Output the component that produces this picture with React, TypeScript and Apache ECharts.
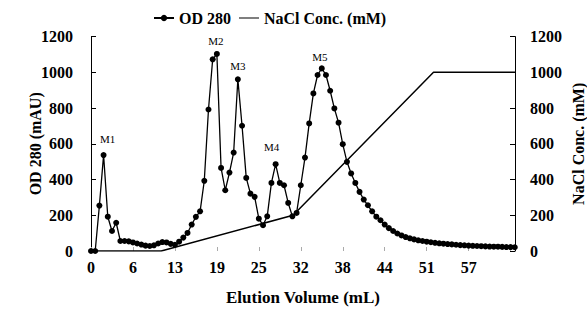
import React, { useEffect, useRef } from "react";
import * as echarts from "echarts";

const FRACTION_VOLUME = 19 / 30; // mL per fraction
const odValues = [
  0, 0, 254, 537, 192, 112, 158, 56, 56, 54,
  48, 42, 36, 30, 28, 32, 42, 50, 48, 40,
  35, 52, 75, 101, 148, 191, 222, 393, 792, 1073,
  1103, 465, 340, 439, 551, 961, 701, 409, 321, 303,
  181, 144, 194, 381, 486, 381, 368, 269, 194, 213,
  368, 523, 714, 882, 985, 1022, 985, 897, 798, 718,
  598, 499, 434, 381, 331, 288, 256, 222, 192, 172,
  148, 128, 112, 98, 87, 78, 71, 65, 60, 56,
  52, 49, 46, 43, 41, 39, 37, 35, 33, 32,
  30, 29, 28, 27, 26, 25, 24, 24, 23, 22,
  22, 21,
];
const peakLabels: { index: number; name: string; dx: number; dy: number }[] = [
  { index: 3, name: "M1", dx: 4, dy: -2 },
  { index: 30, name: "M2", dx: -1, dy: 2 },
  { index: 35, name: "M3", dx: 0, dy: 1 },
  { index: 44, name: "M4", dx: -4, dy: -3 },
  { index: 55, name: "M5", dx: -2, dy: 3 },
];
const naclVolumes = [0, 10.6, 30.5, 51.7, 64];
const naclConc = [0, 0, 200, 1000, 1000];
const yTicks = [0, 200, 400, 600, 800, 1000, 1200];

const FONT = "'Liberation Serif', 'Times New Roman', serif";
const LINE_ICON = "path://M0,0 L0,0.01 M0,3.4 L20,3.4 L20,4.6 L0,4.6 Z M20,7.99 L20,8";

export default function App() {
  const ref = useRef<HTMLDivElement>(null);
  useEffect(() => {
    if (!ref.current) return;
    const chart = echarts.init(ref.current, undefined, { renderer: "svg" });
    const odData = odValues.map((v, i) => {
      const pk = peakLabels.find((p) => p.index === i);
      const item: any = { value: [i * FRACTION_VOLUME, v] };
      if (pk) {
        item.label = {
          show: true,
          formatter: pk.name,
          position: "top",
          distance: 6,
          offset: [pk.dx, pk.dy],
          fontFamily: FONT,
          fontSize: 11,
          color: "#000",
        };
      }
      return item;
    });
    const naclData = naclVolumes.map((v, i) => [v, naclConc[i]]);
    const yAxisCommon = {
      type: "value",
      min: yTicks[0],
      max: yTicks[yTicks.length - 1],
      interval: 200,
      splitLine: { show: false },
      axisLine: { show: true, lineStyle: { color: "#000", width: 1 } },
      axisTick: { show: true, inside: true, length: 5, lineStyle: { color: "#000" } },
      nameLocation: "middle",
      nameRotate: 90,
      nameMoveOverlap: false,
      nameTextStyle: { fontFamily: FONT, fontWeight: "bold", fontSize: 16, color: "#000" },
    };
    const yLabel = (margin: number) => ({
      fontFamily: FONT,
      fontWeight: "bold",
      fontSize: 16,
      color: "#000",
      margin,
      formatter: (v: number) => String(v),
    });
    chart.setOption({
      animation: false,
      backgroundColor: "#fff",
      textStyle: { fontFamily: FONT },
      legend: {
        left: 148,
        top: 5,
        itemWidth: 20,
        itemHeight: 8,
        itemGap: 8,
        textStyle: { fontFamily: FONT, fontWeight: "bold", fontSize: 16, color: "#000" },
        data: [{ name: "OD 280" }, { name: "NaCl Conc. (mM)", icon: LINE_ICON }],
      },
      grid: {
        left: 91,
        right: 72,
        top: 36.6,
        bottom: 59,
        containLabel: false,
        outerBoundsMode: "none",
      },
      xAxis: {
        type: "value",
        min: 0,
        max: 64,
        interval: 19 / 3,
        name: "Elution Volume (mL)",
        nameLocation: "middle",
        nameGap: 38,
        nameMoveOverlap: false,
        nameTextStyle: { fontFamily: FONT, fontWeight: "bold", fontSize: 17, color: "#000" },
        splitLine: { show: false },
        axisLine: { show: false },
        axisTick: { show: true, inside: true, length: 4, lineStyle: { color: "#aaa" } },
        axisLabel: {
          fontFamily: FONT,
          fontWeight: "bold",
          fontSize: 16,
          color: "#000",
          margin: 8,
          showMaxLabel: false,
          formatter: (v: number) => (v > 60 ? "" : String(Math.round(v))),
        },
      },
      yAxis: [
        {
          ...yAxisCommon,
          position: "left",
          name: "OD 280 (mAU)",
          nameGap: 48,
          axisLabel: yLabel(18),
        },
        {
          ...yAxisCommon,
          position: "right",
          name: "NaCl Conc. (mM)",
          nameGap: 55,
          axisLabel: yLabel(15),
        },
      ],
      series: [
        {
          name: "OD 280",
          type: "line",
          yAxisIndex: 0,
          data: odData,
          symbol: "circle",
          symbolSize: 6,
          showSymbol: true,
          itemStyle: { color: "#000" },
          lineStyle: { color: "#000", width: 1.3 },
          z: 3,
        },
        {
          name: "NaCl Conc. (mM)",
          type: "line",
          yAxisIndex: 1,
          data: naclData,
          symbol: "none",
          itemStyle: { color: "#000" },
          lineStyle: { color: "#000", width: 1.5 },
          z: 2,
        },
      ],
    });
    return () => chart.dispose();
  }, []);
  return <div ref={ref} style={{ width: 587, height: 310, position: "absolute", left: 0, top: 0 }} />;
}
